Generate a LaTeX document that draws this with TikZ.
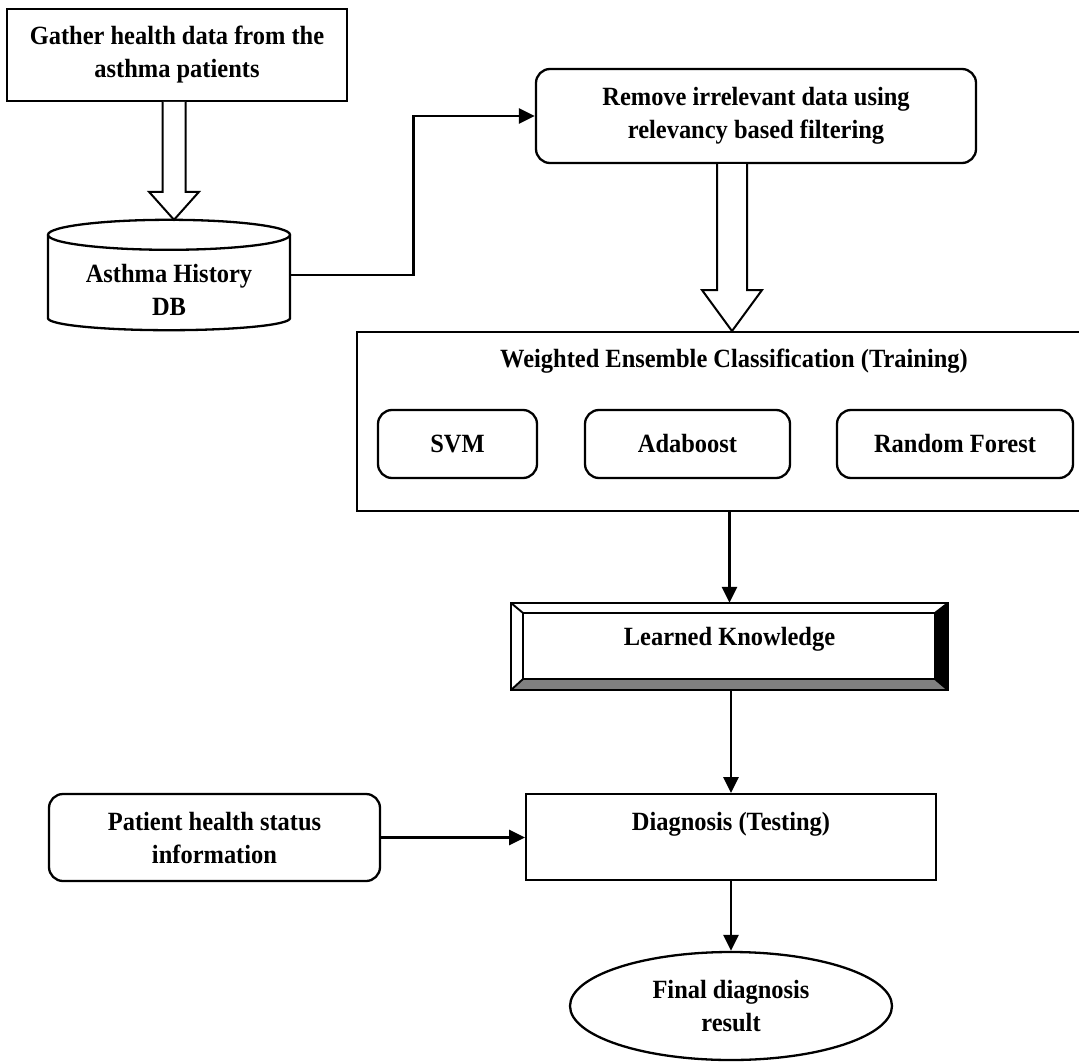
\documentclass[tikz,border=0pt]{standalone}
\usepackage{fontspec}
\setmainfont{Liberation Serif}[FakeStretch=0.93]
\usetikzlibrary{arrows.meta,calc,shapes.geometric}
\newcommand\blockarr[5]{%
  \draw[line width=2pt, fill=white, line join=miter]
    ($(#1)+(-#3,0)$) -- ($(#2)+(-#3,#5)$) -- ($(#2)+(-#4,#5)$) -- (#2)
    -- ($(#2)+(#4,#5)$) -- ($(#2)+(#3,#5)$) -- ($(#1)+(#3,0)$);}
\begin{document}
\begin{tikzpicture}[x=1pt,y=1pt,
  every node/.style={font=\fontsize{26.3}{33}\selectfont\bfseries, align=center, inner sep=0pt},
  rectbox/.style={draw, line width=1.9pt},
  roundbox/.style={draw, line width=2.3pt, rounded corners=14pt},
  conn/.style={line width=2.6pt, -{Triangle[length=16pt,width=15pt]}},
]
\useasboundingbox (0,0) rectangle (1079,-1062);

% Gather box
\node[rectbox, minimum width=340, minimum height=92] (gather) at (177,-55)
  {Gather health data from the\\asthma patients};

% Database cylinder
\node[minimum width=242, minimum height=110] (db) at (169,-275) {};
\coordinate (dbtop) at ($(db.north)+(0,-15)$);
\coordinate (dbbot) at ($(db.south)+(0,12)$);
\draw[line width=2.3pt] ($(dbtop)+(-121,0)$) -- ($(dbbot)+(-121,0)$)
  arc[start angle=180, end angle=360, x radius=121, y radius=12] -- ($(dbtop)+(121,0)$);
\draw[line width=2.3pt] (dbtop) ellipse [x radius=121, y radius=15];
\node (dbtext) at (169,-290) {Asthma History\\DB};

% Hollow arrow 1
\coordinate (a1s) at ($(gather.south)+(-3,0)$);
\coordinate (a1e) at (a1s |- db.north);
\blockarr{a1s}{a1e}{11.5}{25}{28}

% Remove box
\node[roundbox, minimum width=440, minimum height=94] (remove) at (756,-116)
  {Remove irrelevant data using\\relevancy based filtering};
\draw[conn] (db.east) -- ++(123,0) |- (remove.west);

% Weighted ensemble box
\node[rectbox, minimum width=730, minimum height=179] (weighted) at (722,-421.5) {};
\node (wtitle) at (734,-361) {Weighted Ensemble Classification (Training)};
\node[roundbox, minimum width=159, minimum height=68] (svm) at (457.5,-444) {SVM};
\node[roundbox, minimum width=205, minimum height=68] (ada) at (687.5,-444) {Adaboost};
\node[roundbox, minimum width=236, minimum height=68] (rf) at (955,-444) {Random Forest};

% Hollow arrow 2
\coordinate (a2s) at ($(remove.south)+(-24,0)$);
\coordinate (a2e) at (a2s |- weighted.north);
\blockarr{a2s}{a2e}{15}{30}{41}

% Learned knowledge bevel box
\node[minimum width=437, minimum height=87] (lk) at (729.5,-646.5) {};
\coordinate (i1) at ($(lk.north west)+(12,-10)$);
\coordinate (i2) at ($(lk.north east)+(-13,-10)$);
\coordinate (i3) at ($(lk.south east)+(-13,11)$);
\coordinate (i4) at ($(lk.south west)+(12,11)$);
\fill[black!50] (lk.south west) -- (lk.south east) -- (i3) -- (i4) -- cycle;
\fill[black] (lk.north east) -- (lk.south east) -- (i3) -- (i2) -- cycle;
\draw[line width=1.9pt] (i1) rectangle (i3);
\draw[line width=1.9pt] (lk.north west) -- (i1) (lk.south west) -- (i4)
  (lk.north east) -- (i2) (lk.south east) -- (i3);
\draw[line width=2.3pt] (lk.north west) rectangle (lk.south east);
\node (lktext) at (729.5,-639) {Learned Knowledge};
\draw[conn] (lk.north |- weighted.south) -- (lk.north);

% Diagnosis
\node[rectbox, minimum width=410, minimum height=86] (diag) at (731,-837) {};
\node (diagtext) at (731,-824) {Diagnosis (Testing)};
\draw[conn] (diag.north |- lk.south) -- (diag.north);

% Patient box
\node[roundbox, minimum width=331, minimum height=87] (patient) at (214.5,-837.5)
  {Patient health status\\information};
\draw[conn] (patient.east) -- (patient.east -| diag.west);

% Final
\node[draw, ellipse, line width=2.3pt, minimum width=322, minimum height=108] (final) at (731,-1006)
  {Final diagnosis\\result};
\draw[conn] (diag.south) -- (final.north);
\end{tikzpicture}
\end{document}
